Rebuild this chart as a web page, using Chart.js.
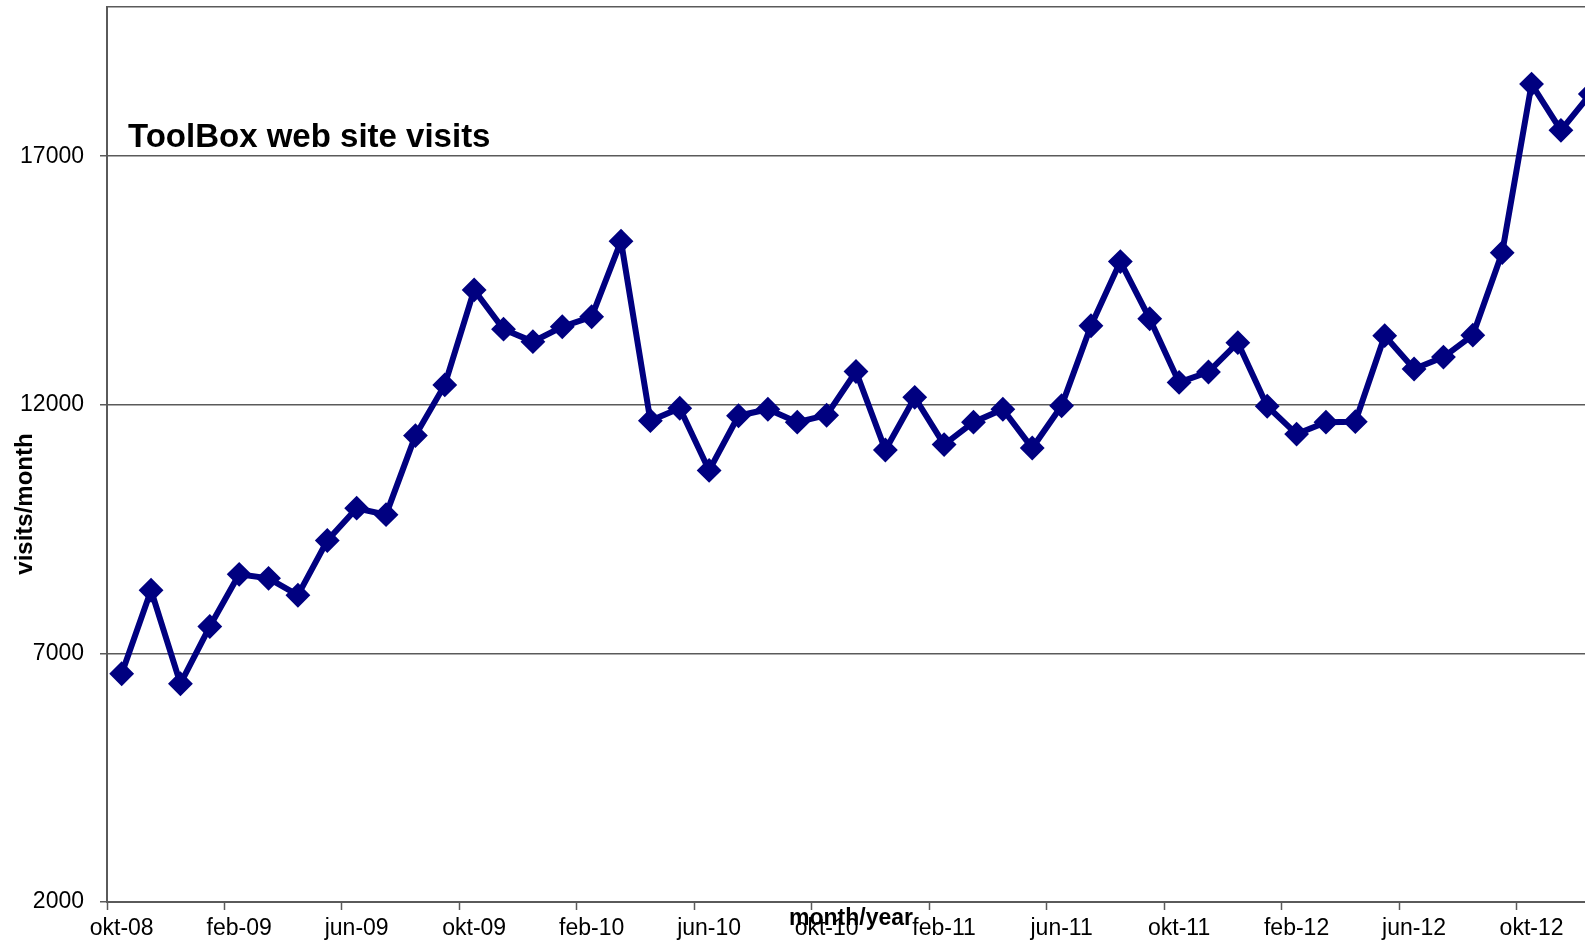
<!DOCTYPE html>
<html lang="nl">

<head>
    <meta charset="UTF-8">
    <title>ToolBox web site visits</title>
    <style>
        html, body { margin: 0; padding: 0; background: #fff; overflow: hidden; }
        #wrap { position: absolute; left: 0; top: 0; width: 1610px; height: 945px; }
    </style>
</head>

<body>
    <div id="wrap">
        <canvas id="visitsChart" width="1610" height="945"></canvas>
    </div>

    <script src="https://cdn.jsdelivr.net/npm/chart.js"></script>
    <script>
        const months = [
            'okt-08', 'nov-08', 'dec-08',
            'jan-09', 'feb-09', 'mrt-09', 'apr-09', 'mei-09', 'jun-09', 'jul-09', 'aug-09', 'sep-09', 'okt-09', 'nov-09', 'dec-09',
            'jan-10', 'feb-10', 'mrt-10', 'apr-10', 'mei-10', 'jun-10', 'jul-10', 'aug-10', 'sep-10', 'okt-10', 'nov-10', 'dec-10',
            'jan-11', 'feb-11', 'mrt-11', 'apr-11', 'mei-11', 'jun-11', 'jul-11', 'aug-11', 'sep-11', 'okt-11', 'nov-11', 'dec-11',
            'jan-12', 'feb-12', 'mrt-12', 'apr-12', 'mei-12', 'jun-12', 'jul-12', 'aug-12', 'sep-12', 'okt-12', 'nov-12', 'dec-12'
        ];
        const visits = [
            6590, 8270, 6390,
            7540, 8590, 8510, 8170, 9270, 9920, 9790, 11380, 12400, 14310, 13520, 13270,
            13570, 13770, 15290, 11680, 11930, 10680, 11780, 11910, 11650, 11790, 12670, 11090,
            12150, 11200, 11650, 11910, 11130, 11980, 13590, 14880, 13730, 12450, 12660, 13250,
            11970, 11410, 11650, 11660, 13390, 12720, 12960, 13400, 15060, 18450, 17520, 18250
        ];
        const yTicks = [2000, 7000, 12000, 17000];
        const yMin = 2000;
        const yMax = 20000;

        const axisGrey = '#5a5a5a';
        const navy = '#000080';
        const fontFamily = '"Liberation Sans", Arial, sans-serif';

        // chart title sits inside the plot, axis titles are placed by hand
        const textPlugin = {
            id: 'chartTexts',
            afterDraw(chart) {
                const c = chart.ctx;
                const area = chart.chartArea;
                c.save();
                c.fillStyle = '#000';
                c.textAlign = 'left';
                c.textBaseline = 'alphabetic';
                c.font = 'bold 33px ' + fontFamily;
                c.fillText('ToolBox web site visits', area.left + 21, 147);

                c.textAlign = 'center';
                c.font = 'bold 23px ' + fontFamily;
                c.fillText('month/year', 851, 925);

                c.translate(32, 504);
                c.rotate(-Math.PI / 2);
                c.font = 'bold 24px ' + fontFamily;
                c.fillText('visits/month', 0, 0);
                c.restore();
            }
        };

        const ctx = document.getElementById('visitsChart').getContext('2d');
        new Chart(ctx, {
            type: 'line',
            data: {
                labels: months,
                datasets: [{
                    label: 'visits/month',
                    data: visits,
                    borderColor: navy,
                    backgroundColor: navy,
                    borderWidth: 6,
                    tension: 0,
                    pointStyle: 'rectRot',
                    pointRadius: 11,
                    pointBorderWidth: 2,
                    pointBackgroundColor: navy,
                    pointBorderColor: navy
                }]
            },
            options: {
                responsive: false,
                animation: false,
                devicePixelRatio: 1,
                layout: {
                    autoPadding: false,
                    padding: { top: 7, right: 5, left: 0, bottom: 0 }
                },
                plugins: {
                    legend: { display: false },
                    tooltip: { enabled: false }
                },
                scales: {
                    x: {
                        type: 'category',
                        offset: true,
                        afterFit(scale) { scale.height = 43; },
                        grid: {
                            offset: true,
                            drawOnChartArea: false,
                            tickLength: 8,
                            tickWidth: 1.5,
                            tickColor: (c) => (c.index % 4 === 0 ? axisGrey : 'rgba(0,0,0,0)')
                        },
                        border: { display: true, color: axisGrey, width: 2 },
                        ticks: {
                            autoSkip: false,
                            maxRotation: 0,
                            minRotation: 0,
                            padding: 5,
                            color: '#000',
                            font: { family: fontFamily, size: 23 },
                            callback: (v, i) => (i % 4 === 0 ? months[i] : '')
                        }
                    },
                    y: {
                        min: yMin,
                        max: yMax,
                        afterFit(scale) {
                            scale.width = 107;
                            scale.paddingTop = 0;
                            scale.paddingBottom = 0;
                        },
                        afterBuildTicks(scale) {
                            // the top line of the plot frame is an unlabeled tick at yMax
                            scale.ticks = yTicks.concat([yMax]).map(v => ({ value: v }));
                        },
                        grid: {
                            color: axisGrey,
                            lineWidth: 1.5,
                            tickLength: 7,
                            tickColor: (c) => (c.tick && c.tick.value === yMax ? 'rgba(0,0,0,0)' : axisGrey)
                        },
                        border: { display: true, color: axisGrey, width: 2 },
                        ticks: {
                            padding: 16,
                            color: '#000',
                            font: { family: fontFamily, size: 23 },
                            callback: (v) => (yTicks.includes(v) ? String(v) : '')
                        }
                    }
                }
            },
            plugins: [textPlugin]
        });
    </script>
</body>

</html>
